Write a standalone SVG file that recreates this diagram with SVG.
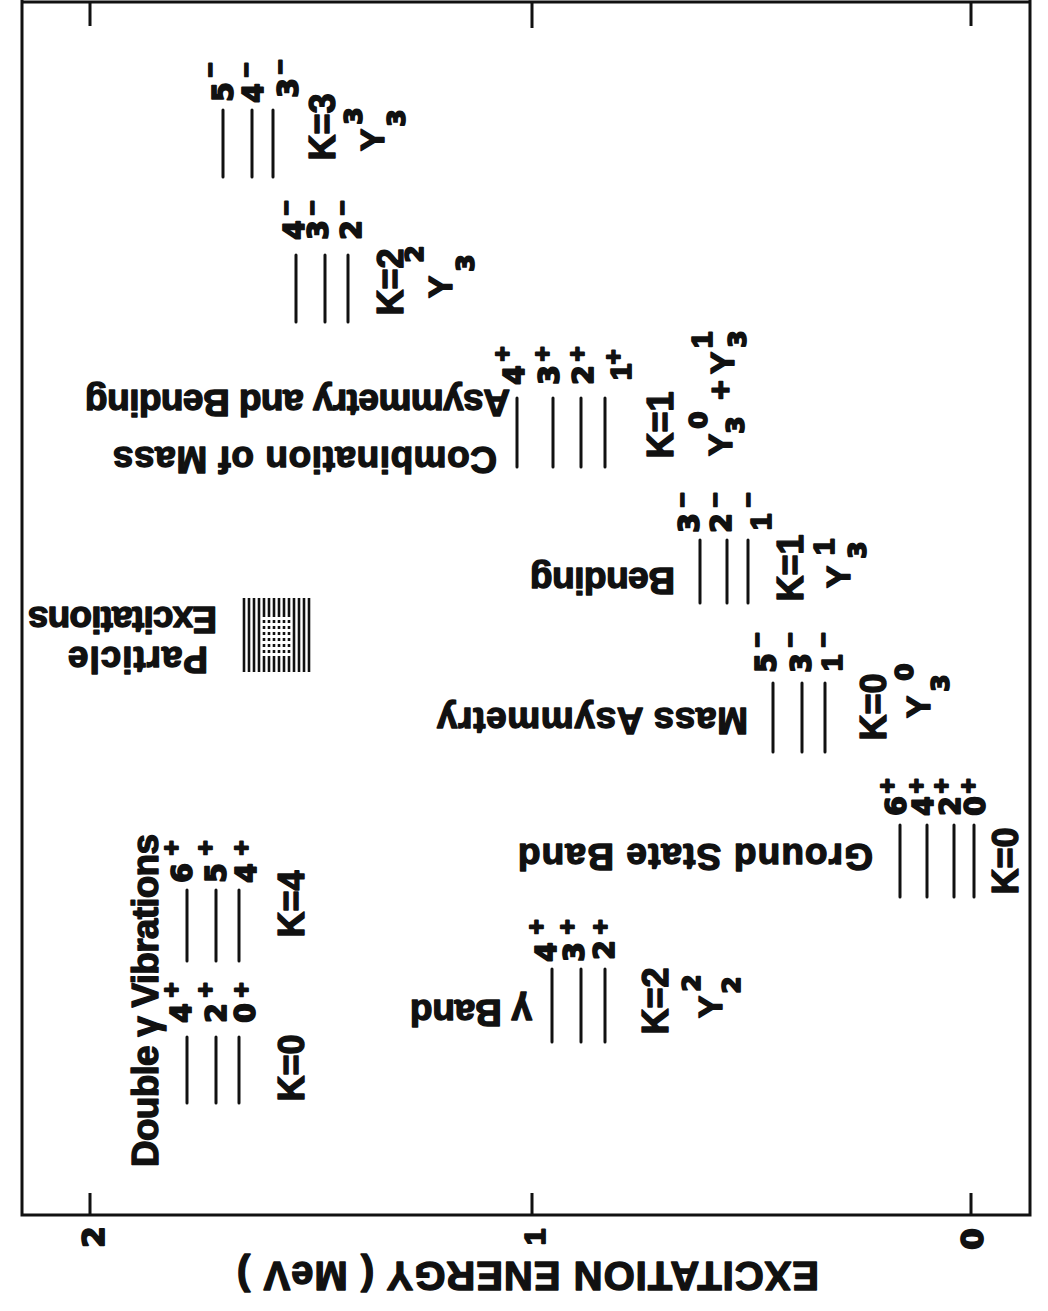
<svg xmlns="http://www.w3.org/2000/svg" width="1048" height="1311" viewBox="0 0 1048 1311">
<style>
  .t{font-family:"Liberation Sans",Arial,sans-serif;font-weight:bold;fill:#111;stroke:#111;stroke-width:1.4;stroke-linejoin:round;text-anchor:middle}
  .d{font-family:"DejaVu Sans",sans-serif;stroke-width:1.8}
  .s{text-anchor:start}
  .nm{font-size:37px}
  .ax{font-size:40px}
  .lv{font-size:28px}
  .one{font-size:30px;font-family:"Liberation Sans",Arial,sans-serif;stroke-width:1.8}
  .sg{font-size:26px;stroke-width:1.8}
  .kk{font-size:36px}
  .yy{font-size:34px}
  .ys{font-size:25px}
  .tk{font-size:31px}
  .lvl{stroke:#111;stroke-width:3;stroke-linecap:round;fill:none}
  .frm{stroke:#111;stroke-width:3;fill:none}
  .hat{stroke:#111;stroke-width:2.6;fill:none}
  .hatd{stroke:#111;stroke-width:2.6;fill:none;stroke-dasharray:3 3}
</style>
<rect width="1048" height="1311" fill="#fff"/>

<!-- frame and energy axis -->
<g id="axis">
  <path class="frm" d="M22,0 V1215 H1030 V0 M22,2 H1030"/>
  <path class="frm" d="M90,1193 V1215 M532,1193 V1215 M971,1193 V1215 M90,2 V26 M532,2 V28 M971,2 V26"/>
  <text class="t d tk" transform="translate(104,1237) rotate(-90)">2</text>
  <text class="t one" transform="translate(545,1237) rotate(-90)">1</text>
  <text class="t d tk" transform="translate(983,1239) rotate(-90)">0</text>
  <text class="t s ax" transform="translate(819,1262) rotate(180)" textLength="582" lengthAdjust="spacing">EXCITATION ENERGY ( MeV )</text>
</g>

<!-- double gamma vibrations, K=0 and K=4 -->
<g id="double-gamma">
  <text class="t s nm" transform="translate(158,1167) rotate(-90)" textLength="333" lengthAdjust="spacing">Double γ Vibrations</text>
  <path class="lvl" d="M187,1037 V1103 M216,1037 V1103 M239,1037 V1103"/>
  <text class="t d lv" transform="translate(191,1013) rotate(-90)">4</text>
  <text class="t d lv" transform="translate(226,1013) rotate(-90)">2</text>
  <text class="t d lv" transform="translate(255,1013) rotate(-90)">0</text>
  <text class="t sg" transform="translate(180,990) rotate(-90)">+</text>
  <text class="t sg" transform="translate(214,990) rotate(-90)">+</text>
  <text class="t sg" transform="translate(250,990) rotate(-90)">+</text>
  <text class="t kk" transform="translate(304,1068) rotate(-90)">K=0</text>

  <path class="lvl" d="M187,890 V961 M216,890 V961 M239,890 V961"/>
  <text class="t d lv" transform="translate(192,873) rotate(-90)">6</text>
  <text class="t d lv" transform="translate(226,873) rotate(-90)">5</text>
  <text class="t d lv" transform="translate(256,873) rotate(-90)">4</text>
  <text class="t sg" transform="translate(180,848) rotate(-90)">+</text>
  <text class="t sg" transform="translate(214,848) rotate(-90)">+</text>
  <text class="t sg" transform="translate(250,848) rotate(-90)">+</text>
  <text class="t kk" transform="translate(304,904) rotate(-90)">K=4</text>
</g>

<!-- gamma band -->
<g id="gamma-band">
  <text class="t s nm" transform="translate(532,1000) rotate(180)" textLength="122" lengthAdjust="spacing">γ Band</text>
  <path class="lvl" d="M552,969 V1042 M581,969 V1042 M605,969 V1042"/>
  <text class="t d lv" transform="translate(556,952) rotate(-90)">4</text>
  <text class="t d lv" transform="translate(584,952) rotate(-90)">3</text>
  <text class="t d lv" transform="translate(614,950) rotate(-90)">2</text>
  <text class="t sg" transform="translate(545,927) rotate(-90)">+</text>
  <text class="t sg" transform="translate(576,927) rotate(-90)">+</text>
  <text class="t sg" transform="translate(609,927) rotate(-90)">+</text>
  <text class="t kk" transform="translate(668,1001) rotate(-90)">K=2</text>
  <text class="t yy" transform="translate(722,1007) rotate(-90)">Y</text>
  <text class="t d ys" transform="translate(700,983) rotate(-90)">2</text>
  <text class="t d ys" transform="translate(740,985) rotate(-90)">2</text>
</g>

<!-- ground state band -->
<g id="ground-band">
  <text class="t s nm" transform="translate(873,844) rotate(180)" textLength="355" lengthAdjust="spacing">Ground  State Band</text>
  <path class="lvl" d="M900,825 V897 M927,825 V897 M954,825 V897 M974,825 V897"/>
  <text class="t d lv" transform="translate(906,806) rotate(-90)">6</text>
  <text class="t d lv" transform="translate(933,806) rotate(-90)">4</text>
  <text class="t d lv" transform="translate(960,806) rotate(-90)">2</text>
  <text class="t d lv" transform="translate(985,806) rotate(-90)">0</text>
  <text class="t sg" transform="translate(896,786) rotate(-90)">+</text>
  <text class="t sg" transform="translate(925,786) rotate(-90)">+</text>
  <text class="t sg" transform="translate(950,786) rotate(-90)">+</text>
  <text class="t sg" transform="translate(977,786) rotate(-90)">+</text>
  <text class="t kk" transform="translate(1018,861) rotate(-90)">K=0</text>
</g>

<!-- particle excitations -->
<g id="particle">
  <text class="t s nm" transform="translate(217,607) rotate(180)" textLength="189" lengthAdjust="spacing">Excitations</text>
  <text class="t s nm" transform="translate(208,647) rotate(180)" textLength="140" lengthAdjust="spacing">Particle</text>
  <path class="hat" d="M244,598 V672 M249,598 V672 M254,598 V672 M259,598 V672 M294,598 V672 M299,598 V672 M304,598 V672 M309,598 V672 M264,598 V614 M269,598 V614 M274,598 V614 M279,598 V614 M284,598 V614 M289,598 V614 M264,656 V672 M269,656 V672 M274,656 V672 M279,656 V672 M284,656 V672 M289,656 V672"/>
  <path class="hatd" d="M264,614 V656 M269,614 V656 M274,614 V656 M279,614 V656 M284,614 V656 M289,614 V656"/>
</g>

<!-- mass asymmetry band -->
<g id="mass-asymmetry">
  <text class="t s nm" transform="translate(748,708) rotate(180)" textLength="311" lengthAdjust="spacing">Mass  Asymmetry</text>
  <path class="lvl" d="M773,683 V752 M802,683 V752 M825,683 V752"/>
  <text class="t d lv" transform="translate(776,663) rotate(-90)">5</text>
  <text class="t d lv" transform="translate(811,663) rotate(-90)">3</text>
  <text class="t one" transform="translate(842,663) rotate(-90)">1</text>
  <text class="t sg" transform="translate(766,640) rotate(-90)">−</text>
  <text class="t sg" transform="translate(799,640) rotate(-90)">−</text>
  <text class="t sg" transform="translate(832,640) rotate(-90)">−</text>
  <text class="t kk" transform="translate(886,707) rotate(-90)">K=0</text>
  <text class="t yy" transform="translate(930,707) rotate(-90)">Y</text>
  <text class="t d ys" transform="translate(913,672) rotate(-90)">0</text>
  <text class="t d ys" transform="translate(949,683) rotate(-90)">3</text>
</g>

<!-- bending band -->
<g id="bending">
  <text class="t s nm" transform="translate(675,568) rotate(180)" textLength="145" lengthAdjust="spacing">Bending</text>
  <path class="lvl" d="M700,540 V603 M727,540 V603 M748,540 V603"/>
  <text class="t d lv" transform="translate(699,523) rotate(-90)">3</text>
  <text class="t d lv" transform="translate(731,523) rotate(-90)">2</text>
  <text class="t one" transform="translate(771,522) rotate(-90)">1</text>
  <text class="t sg" transform="translate(691,500) rotate(-90)">−</text>
  <text class="t sg" transform="translate(724,500) rotate(-90)">−</text>
  <text class="t sg" transform="translate(757,500) rotate(-90)">−</text>
  <text class="t kk" transform="translate(803,568) rotate(-90)">K=1</text>
  <text class="t yy" transform="translate(850,577) rotate(-90)">Y</text>
  <text class="t one" transform="translate(834,547) rotate(-90)">1</text>
  <text class="t d ys" transform="translate(866,550) rotate(-90)">3</text>
</g>

<!-- combination of mass asymmetry and bending -->
<g id="combination">
  <text class="t s nm" transform="translate(510,390) rotate(180)" textLength="425" lengthAdjust="spacing">Asymmetry and Bending</text>
  <text class="t s nm" transform="translate(497,447) rotate(180)" textLength="384" lengthAdjust="spacing">Combination of Mass</text>
  <path class="lvl" d="M517,398 V467 M553,398 V467 M581,398 V467 M605,398 V467"/>
  <text class="t d lv" transform="translate(524,375) rotate(-90)">4</text>
  <text class="t d lv" transform="translate(559,375) rotate(-90)">3</text>
  <text class="t d lv" transform="translate(593,375) rotate(-90)">2</text>
  <text class="t one" transform="translate(631,372) rotate(-90)">1</text>
  <text class="t sg" transform="translate(511,354) rotate(-90)">+</text>
  <text class="t sg" transform="translate(551,354) rotate(-90)">+</text>
  <text class="t sg" transform="translate(586,354) rotate(-90)">+</text>
  <text class="t sg" transform="translate(622,357) rotate(-90)">+</text>
  <text class="t kk" transform="translate(673,425) rotate(-90)">K=1</text>
  <text class="t yy" transform="translate(732,445) rotate(-90)">Y</text>
  <text class="t d ys" transform="translate(707,420) rotate(-90)">0</text>
  <text class="t d ys" transform="translate(744,425) rotate(-90)">3</text>
  <text class="t yy" transform="translate(732,390) rotate(-90)">+</text>
  <text class="t yy" transform="translate(734,363) rotate(-90)">Y</text>
  <text class="t one" transform="translate(712,340) rotate(-90)">1</text>
  <text class="t d ys" transform="translate(746,339) rotate(-90)">3</text>
</g>

<!-- K=2 octupole band -->
<g id="k2-band">
  <path class="lvl" d="M296,255 V322 M325,255 V322 M348,255 V322"/>
  <text class="t d lv" transform="translate(304,230) rotate(-90)">4</text>
  <text class="t d lv" transform="translate(328,230) rotate(-90)">3</text>
  <text class="t d lv" transform="translate(361,230) rotate(-90)">2</text>
  <text class="t sg" transform="translate(295,208) rotate(-90)">−</text>
  <text class="t sg" transform="translate(321,208) rotate(-90)">−</text>
  <text class="t sg" transform="translate(351,208) rotate(-90)">−</text>
  <text class="t kk" transform="translate(403,282) rotate(-90)">K=2</text>
  <text class="t yy" transform="translate(452,287) rotate(-90)">Y</text>
  <text class="t d ys" transform="translate(423,254) rotate(-90)">2</text>
  <text class="t d ys" transform="translate(474,263) rotate(-90)">3</text>
</g>

<!-- K=3 octupole band -->
<g id="k3-band">
  <path class="lvl" d="M223,110 V177 M252,110 V177 M273,110 V177"/>
  <text class="t d lv" transform="translate(233,92) rotate(-90)">5</text>
  <text class="t d lv" transform="translate(263,93) rotate(-90)">4</text>
  <text class="t d lv" transform="translate(298,88) rotate(-90)">3</text>
  <text class="t sg" transform="translate(219,70) rotate(-90)">−</text>
  <text class="t sg" transform="translate(255,70) rotate(-90)">−</text>
  <text class="t sg" transform="translate(289,67) rotate(-90)">−</text>
  <text class="t kk" transform="translate(335,127) rotate(-90)">K=3</text>
  <text class="t yy" transform="translate(384,140) rotate(-90)">Y</text>
  <text class="t d ys" transform="translate(362,116) rotate(-90)">3</text>
  <text class="t d ys" transform="translate(405,118) rotate(-90)">3</text>
</g>
</svg>
